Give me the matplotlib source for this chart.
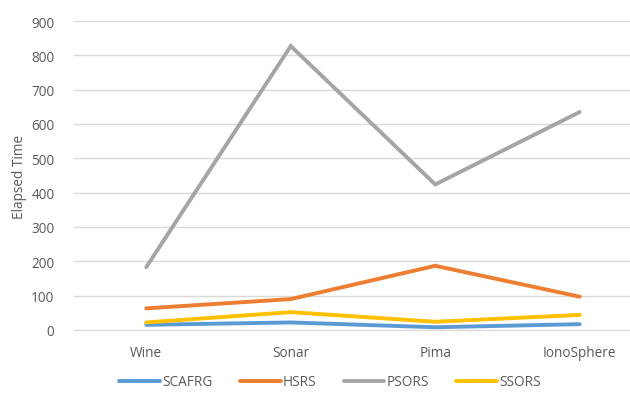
import matplotlib
matplotlib.use("Agg")
import matplotlib.pyplot as plt

datasets = ["Wine", "Sonar", "Pima", "IonoSphere"]
scafrg = [15, 22, 8, 17]
hsrs = [63, 90, 187, 97]
psors = [183, 827, 424, 635]
ssors = [22, 52, 24, 44]

series = [("SCAFRG", scafrg, "#5B9BD5"),
          ("HSRS", hsrs, "#ED7D31"),
          ("PSORS", psors, "#A5A5A5"),
          ("SSORS", ssors, "#FFC000")]

plt.rcParams["font.family"] = ["Open Sans", "DejaVu Sans"]
TXT = "#595959"

fig = plt.figure(figsize=(6.3, 4.02), dpi=100)
ax = fig.add_axes([74 / 630, 71 / 402, 578 / 630, 309 / 402])

x = range(len(datasets))
for name, vals, col in series:
    ax.plot(x, vals, color=col, lw=2.8, label=name, solid_capstyle="round",
            solid_joinstyle="miter")

ax.set_xlim(-0.5, len(datasets) - 0.5)
ax.set_ylim(0, 900)
ax.set_yticks(range(0, 901, 100))
ax.set_xticks(list(x))
ax.set_xticklabels(datasets)
ax.yaxis.grid(True, color="#D9D9D9", lw=1)
ax.set_axisbelow(True)
for side in ["top", "right", "left"]:
    ax.spines[side].set_visible(False)
ax.spines["bottom"].set_color("#D9D9D9")
ax.tick_params(length=0, colors=TXT, labelsize=9.8)
ax.tick_params(axis="x", pad=11)
ax.tick_params(axis="y", pad=14)
ax.set_ylabel("Elapsed Time", color=TXT, fontsize=9.8, labelpad=3)

fig.legend(loc="center", bbox_to_anchor=(330 / 630, 19 / 402), ncol=4,
           frameon=False, fontsize=9.8, handlelength=3.0, handletextpad=0.15,
           columnspacing=2.0, labelcolor=TXT)

fig.savefig("out.png", dpi=100)
